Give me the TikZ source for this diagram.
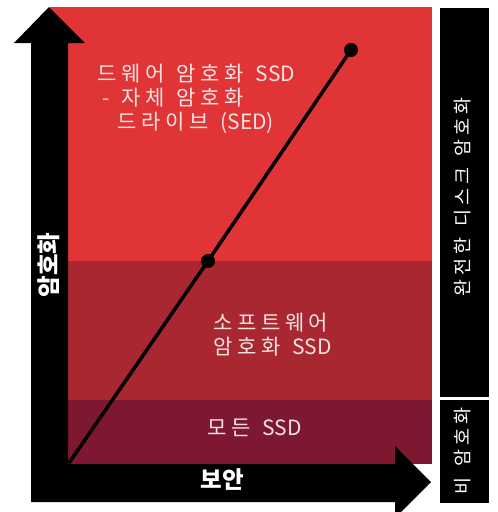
\documentclass[tikz,border=0pt]{standalone}
\usepackage{fontspec}
\newfontfamily\kr{Noto Sans CJK KR}[LetterSpace=22,WordSpace=1.3]
\newfontfamily\krlat{Noto Sans CJK KR}
\newcommand\ltn[1]{{\krlat #1}}
\definecolor{topred}{HTML}{E03436}
\definecolor{midred}{HTML}{A82731}
\definecolor{lowred}{HTML}{7D1830}
\definecolor{pale}{HTML}{F4E4E4}
\tikzset{
  band/.style={anchor=west,align=left,text=pale,font=\kr\fontsize{21}{24}\selectfont,inner sep=0pt},
  axislabel/.style={text=white,font=\krlat\bfseries\fontsize{23.5}{26}\selectfont,inner sep=0pt},
  sidelabel/.style={text=white,font=\kr\fontsize{18.5}{20}\selectfont,rotate=90,inner sep=0pt},
  dot/.style={circle,fill=black,inner sep=0pt,minimum size=14pt}
}
\begin{document}
\begin{tikzpicture}[x=1pt,y=-1pt]
  \useasboundingbox (0,0) rectangle (498,512);
  \clip (0,0) rectangle (498,512);
  % bands
  \fill[topred] (50,7) rectangle (432,261);
  \fill[midred] (50,261) rectangle (432,400);
  \fill[lowred] (50,400) rectangle (432,464);

  % axes
  \fill (31,502)--(31,43)--(14,43)--(49,7)--(85,43)--(68,43)--(68,464)
        --(395,464)--(395,446)--(431,482)--(395,518)--(395,502)--cycle;

  % side bars
  \fill (440,8) rectangle (489,397);
  \fill (440,400) rectangle (489,503);

  \coordinate (origin) at (69,463);
  \node[dot] (mid) at (208,261) {};
  \node[dot] (top) at (351,50) {};
  \draw[line width=3.5pt] (origin)--(mid.center)--(top.center);

  \node[band] (hw) at (97,99) {드웨어 암호화 \ltn{SSD}\\\hspace{5pt}\ltn{-} 자체 암호화\\\hspace{20pt}드라이브 \ltn{(SED)}};
  \node[band] (sw) at (213,335) {소프트웨어\\암호화 \ltn{SSD}};
  \node[band] (all) at (207,428) {모든 \ltn{SSD}};

  \node[axislabel,rotate=90] (enc) at (49,265) {암호화};
  \node[axislabel] (sec) at (222,480) {보안};

  \node[sidelabel] (full) at (463,197) {완전한 디스크 암호화};
  \node[sidelabel] (none) at (463,451) {비 암호화};
\end{tikzpicture}
\end{document}
